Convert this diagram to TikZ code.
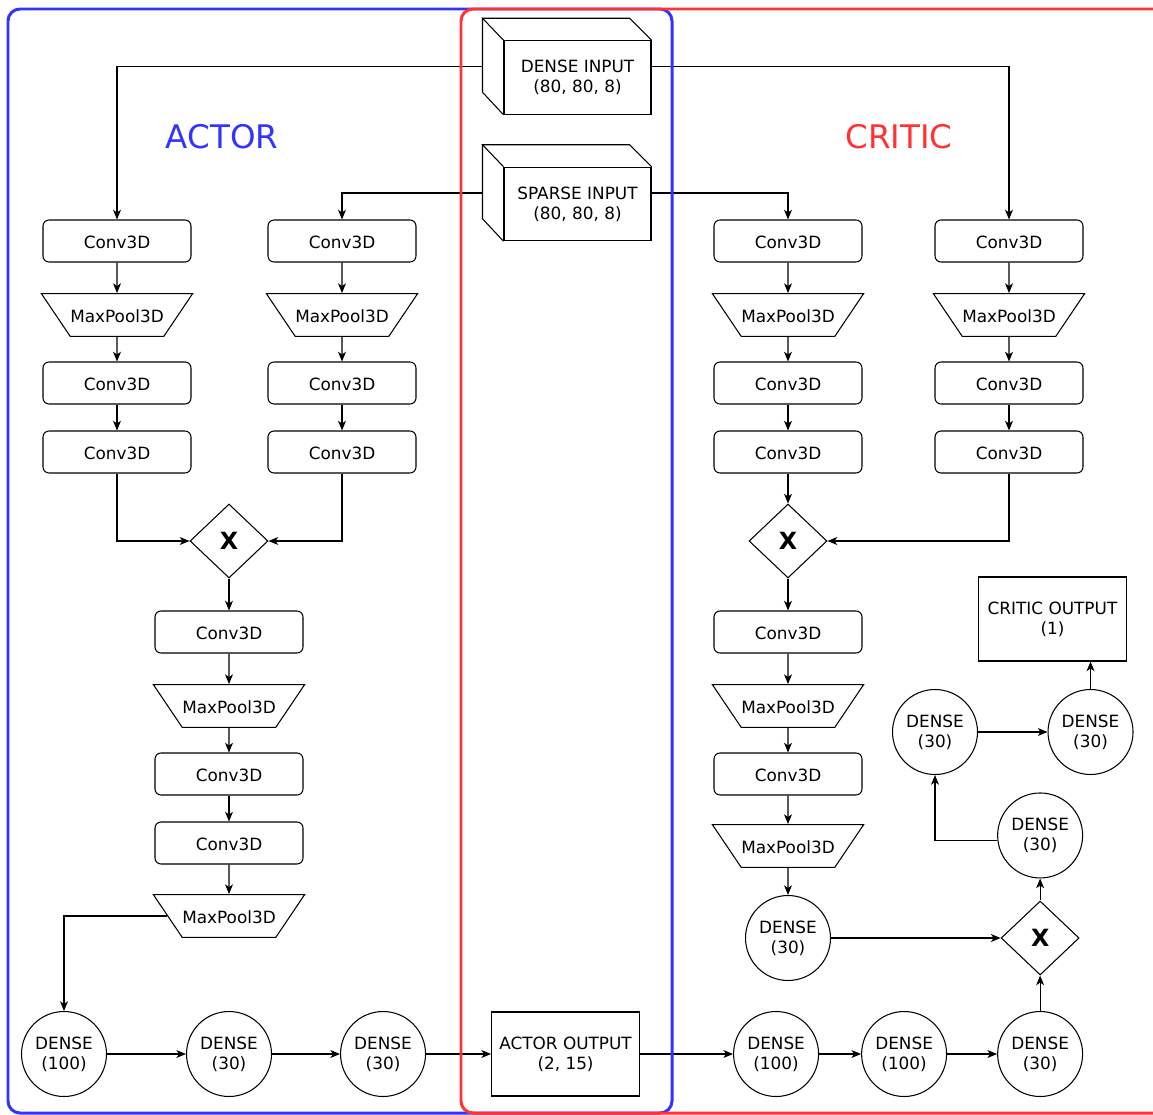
\documentclass[tikz,border=0pt]{standalone}
\usepackage{fontspec}
\setmainfont{DejaVu Sans}
\usepackage{xcolor}
\usepackage{tikz}
\usetikzlibrary{shapes.geometric, arrows.meta, positioning, calc}
\definecolor{actorcolor}{RGB}{51, 51, 255}
\definecolor{criticcolor}{RGB}{255, 51, 51}
\newcommand{\netfont}{\fontsize{9.6}{11.3}\selectfont}
\tikzstyle{conv} = [rectangle, rounded corners=0.12cm, minimum width=2.96cm, minimum height=0.84cm, text height=8pt, text depth=0pt, text centered, draw=black, fill=white, font=\netfont]
\tikzstyle{pool} = [trapezium, trapezium left angle=124, trapezium right angle=124, trapezium stretches body=true, minimum width=2.96cm, inner xsep=0pt, inner ysep=8.2pt, text height=8pt, text depth=0pt, text centered, draw=black, fill=white, font=\netfont]
\tikzstyle{mult} = [diamond, minimum width=1.56cm, minimum height=1.48cm, inner sep=0pt, draw=black, fill=white, font=\fontsize{13.5}{15}\selectfont\bfseries]
\tikzstyle{dense} = [circle, minimum size=1.7cm, inner sep=0pt, align=center, draw=black, fill=white, font=\netfont]
\tikzstyle{output} = [rectangle, minimum width=2.96cm, minimum height=1.68cm, align=center, draw=black, fill=white, font=\netfont]
\tikzstyle{inface} = [rectangle, minimum width=2.94cm, minimum height=1.47cm, align=center, draw=black, fill=white, font=\netfont]
\tikzstyle{title} = [font=\fontsize{18.5}{21}\selectfont]
\tikzstyle{arrow} = [->, >={Stealth[length=5.5pt, width=4.5pt, inset=1.5pt]}]

\begin{document}
\begin{tikzpicture}[x=0.02cm, y=-0.02cm, node distance=0.6cm, line width=0.6pt]
    \useasboundingbox (0,0) rectangle (1153,1115);

    % Inputs
    \node[inface] (dense) at (577.5,77.5) {DENSE INPUT\\(80, 80, 8)};
    \draw (dense.north west) -- ++(-21,-22) -- ++(147,0) -- (dense.north east);
    \draw (dense.north west) ++(-21,-22) -- ++(0,74) -- (dense.south west);
    \node[inface] (sparse) at (577.5,204) {SPARSE INPUT\\(80, 80, 8)};
    \draw (sparse.north west) -- ++(-21,-22) -- ++(147,0) -- (sparse.north east);
    \draw (sparse.north west) ++(-21,-22) -- ++(0,74) -- (sparse.south west);
    \coordinate (dense-l) at ($(dense.west)+(-21,-11)$);
    \coordinate (dense-r) at ($(dense.east)+(0,-11)$);
    \coordinate (sparse-l) at ($(sparse.west)+(-21,-11)$);
    \coordinate (sparse-r) at ($(sparse.east)+(0,-11)$);

    % Titles
    \node[title, text=actorcolor] (actortitle) at (222,137) {ACTOR};
    \node[title, text=criticcolor] (critictitle) at (899,137) {CRITIC};

    % Actor - dense branch
    \node[conv] (a-c1) at (117,241) {Conv3D};
    \node[pool] (a-p1) at (117,315) {MaxPool3D};
    \node[conv] (a-c2) at (117,383) {Conv3D};
    \node[conv] (a-c3) at (117,452) {Conv3D};

    % Actor - sparse branch
    \node[conv] (a-c4) at (342,241) {Conv3D};
    \node[pool] (a-p2) at (342,315) {MaxPool3D};
    \node[conv] (a-c5) at (342,383) {Conv3D};
    \node[conv] (a-c6) at (342,452) {Conv3D};

    % Actor - merged
    \node[mult] (a-mul) at (229,541) {X};
    \node[conv] (a-c7) at (229,632) {Conv3D};
    \node[pool] (a-p3) at (229,706) {MaxPool3D};
    \node[conv] (a-c8) at (229,774) {Conv3D};
    \node[conv] (a-c9) at (229,843) {Conv3D};
    \node[pool] (a-p4) at (229,916) {MaxPool3D};

    % Actor - dense layers
    \node[dense] (a-d1) at (64,1054) {DENSE\\(100)};
    \node[dense, right=1.58cm of a-d1] (a-d2) {DENSE\\(30)};
    \node[dense, right=1.36cm of a-d2] (a-d3) {DENSE\\(30)};
    \node[output, right=1.3cm of a-d3] (actorout) {ACTOR OUTPUT\\(2, 15)};

    % Critic - sparse branch
    \node[conv] (c-c1) at (788,241) {Conv3D};
    \node[pool] (c-p1) at (788,315) {MaxPool3D};
    \node[conv] (c-c2) at (788,383) {Conv3D};
    \node[conv] (c-c3) at (788,452) {Conv3D};

    % Critic - dense branch
    \node[conv] (c-c4) at (1009,241) {Conv3D};
    \node[pool] (c-p2) at (1009,315) {MaxPool3D};
    \node[conv] (c-c5) at (1009,383) {Conv3D};
    \node[conv] (c-c6) at (1009,452) {Conv3D};

    % Critic - merged
    \node[mult] (c-mul) at (788,541) {X};
    \node[conv] (c-c7) at (788,632) {Conv3D};
    \node[pool] (c-p3) at (788,706) {MaxPool3D};
    \node[conv] (c-c8) at (788,774) {Conv3D};
    \node[pool] (c-p4) at (788,846) {MaxPool3D};
    \node[dense] (c-d1) at (788,938) {DENSE\\(30)};

    % Critic - action branch
    \node[dense, right=1.86cm of actorout] (c-d2) {DENSE\\(100)};
    \node[dense, right=0.84cm of c-d2] (c-d3) {DENSE\\(100)};
    \node[dense, right=1.0cm of c-d3] (c-d4) {DENSE\\(30)};
    \node[mult] (c-mul2) at (c-d4 |- c-d1) {X};
    \node[dense, above=0.44cm of c-mul2] (c-d5) {DENSE\\(30)};
    \node[dense] (c-d6) at (935,732) {DENSE\\(30)};
    \node[dense, right=1.39cm of c-d6] (c-d7) {DENSE\\(30)};
    \node[output] (criticout) at (1052.5,619) {CRITIC OUTPUT\\(1)};

    % Arrows - inputs
    \draw[arrow] (dense-l) -| (a-c1.north);
    \draw[arrow] (dense-r) -| (c-c4.north);
    \draw[arrow] (sparse-l) -| (a-c4.north);
    \draw[arrow] (sparse-r) -| (c-c1.north);

    % Arrows - actor
    \draw[arrow] (a-c1) -- (a-p1);
    \draw[arrow] (a-p1) -- (a-c2);
    \draw[arrow] (a-c2) -- (a-c3);
    \draw[arrow] (a-c4) -- (a-p2);
    \draw[arrow] (a-p2) -- (a-c5);
    \draw[arrow] (a-c5) -- (a-c6);
    \draw[arrow] (a-c3.south) |- (a-mul.west);
    \draw[arrow] (a-c6.south) |- (a-mul.east);
    \draw[arrow] (a-mul) -- (a-c7);
    \draw[arrow] (a-c7) -- (a-p3);
    \draw[arrow] (a-p3) -- (a-c8);
    \draw[arrow] (a-c8) -- (a-c9);
    \draw[arrow] (a-c9) -- (a-p4);
    \draw[arrow] (a-p4.west) -| (a-d1.north);
    \draw[arrow] (a-d1) -- (a-d2);
    \draw[arrow] (a-d2) -- (a-d3);
    \draw[arrow] (a-d3) -- (actorout);

    % Arrows - critic
    \draw[arrow] (c-c1) -- (c-p1);
    \draw[arrow] (c-p1) -- (c-c2);
    \draw[arrow] (c-c2) -- (c-c3);
    \draw[arrow] (c-c4) -- (c-p2);
    \draw[arrow] (c-p2) -- (c-c5);
    \draw[arrow] (c-c5) -- (c-c6);
    \draw[arrow] (c-c3) -- (c-mul);
    \draw[arrow] (c-c6.south) |- (c-mul.east);
    \draw[arrow] (c-mul) -- (c-c7);
    \draw[arrow] (c-c7) -- (c-p3);
    \draw[arrow] (c-p3) -- (c-c8);
    \draw[arrow] (c-c8) -- (c-p4);
    \draw[arrow] (c-p4) -- (c-d1);
    \draw[arrow] (actorout) -- (c-d2);
    \draw[arrow] (c-d2) -- (c-d3);
    \draw[arrow] (c-d3) -- (c-d4);
    \draw[arrow] (c-d4) -- (c-mul2);
    \draw[arrow] (c-d1) -- (c-mul2);
    \draw[arrow] (c-mul2) -- (c-d5);
    \draw[arrow] (c-d5.187) -| (c-d6.south);
    \draw[arrow] (c-d6) -- (c-d7);
    \draw[arrow] (c-d7.north) -- (c-d7.north |- criticout.south);

    % Frames
    \draw[actorcolor, line width=1.7pt, rounded corners=0.24cm] (8,9) rectangle (672,1113);
    \draw[criticcolor, line width=1.7pt, rounded corners=0.24cm] (461,9) rectangle (1190,1113);
\end{tikzpicture}
\end{document}
